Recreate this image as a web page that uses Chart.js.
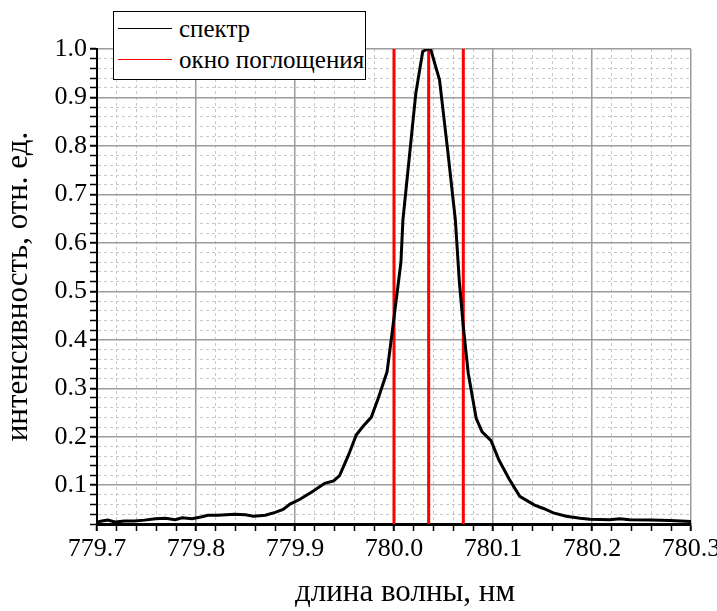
<!DOCTYPE html>
<html>
<head>
<meta charset="utf-8">
<title>спектр</title>
<script src="https://cdn.jsdelivr.net/npm/chart.js@4.4.1/dist/chart.umd.min.js"></script>
<style>
  body { margin: 0; background: #fff; }
  #wrap { position: relative; width: 717px; height: 611px; }
  #legend {
    position: absolute; left: 113px; top: 11px; width: 251px; height: 66px;
    border: 1px solid #000; background: #fff; padding-top: 1px; box-sizing: content-box;
    font: 25px "Liberation Serif"; color: #000;
  }
  #legend .row { display: flex; align-items: center; height: 31px; }
  #legend .line { width: 54px; height: 1px; margin-left: 4px; margin-right: 7px; }
</style>
</head>
<body>
<div id="wrap">
  <canvas id="chart" width="717" height="611"></canvas>
  <div id="legend"></div>
</div>
<script>
// data
const wavelength = [
  779.700, 779.705, 779.711, 779.718, 779.728, 779.738, 779.748, 779.759, 779.769, 779.779,
  779.786, 779.796, 779.806, 779.812, 779.822, 779.839, 779.850, 779.858, 779.870, 779.880,
  779.888, 779.895, 779.905, 779.917, 779.930, 779.939, 779.945, 779.954, 779.962, 779.969,
  779.977, 779.984, 779.993, 779.998, 780.007, 780.009, 780.022, 780.029, 780.034, 780.037,
  780.046, 780.054, 780.062, 780.066, 780.070, 780.075, 780.083, 780.089, 780.098, 780.106,
  780.116, 780.127, 780.142, 780.151, 780.161, 780.174, 780.188, 780.198, 780.218, 780.228,
  780.238, 780.259, 780.279, 780.300
];
const intensity = [
  0.024, 0.026, 0.028, 0.024, 0.026, 0.026, 0.028, 0.031, 0.032, 0.029,
  0.033, 0.031, 0.035, 0.038, 0.038, 0.040, 0.039, 0.036, 0.038, 0.044,
  0.050, 0.061, 0.071, 0.086, 0.104, 0.109, 0.120, 0.162, 0.204, 0.222,
  0.240, 0.279, 0.334, 0.413, 0.560, 0.647, 0.908, 0.995, 1.000, 1.000,
  0.936, 0.795, 0.647, 0.520, 0.427, 0.331, 0.238, 0.210, 0.192, 0.152,
  0.114, 0.077, 0.059, 0.052, 0.043, 0.036, 0.032, 0.030, 0.029, 0.031,
  0.029, 0.028, 0.027, 0.025
];
// absorption window edges and centre
const windowLines = [780.000, 780.035, 780.070];

const seriesLabels = ['спектр', 'окно поглощения'];
const xRange = [779.7, 780.3];
const yRange = [0.02, 1.0];
const gridStep = 0.02;
const labelStep = 0.1;
const xTitle = 'длина волны, нм';
const yTitle = 'интенсивность, отн. ед.';

// helpers
const isMajor = (v) => Math.abs(v / labelStep - Math.round(v / labelStep)) < 1e-6;

const spectrumPoints = wavelength.map((x, i) => ({ x: x, y: intensity[i] }));
const windowPoints = [];
windowLines.forEach((x) => {
  windowPoints.push({ x: x, y: yRange[0] }, { x: x, y: yRange[1] }, { x: x, y: null });
});

const tickFont = { family: 'Liberation Serif', size: 26 };
const titleFont = { family: 'Liberation Serif', size: 31 };

const gridOpts = {
  color: ctx => isMajor(ctx.tick.value) ? '#9c9c9c' : '#c8c8c8',
  lineWidth: ctx => isMajor(ctx.tick.value) ? 1.5 : 1,
  tickColor: '#000',
  tickLength: 7,
  tickWidth: ctx => isMajor(ctx.tick.value) ? 2 : 1.5
};
const borderOpts = (w) => ({
  color: '#000',
  width: w,
  dash: ctx => (ctx.tick && !isMajor(ctx.tick.value)) ? [3, 3] : []
});

// html legend built from the datasets
const htmlLegend = {
  id: 'htmlLegend',
  afterUpdate(chart) {
    const box = document.getElementById('legend');
    box.innerHTML = '';
    chart.data.datasets.forEach((ds) => {
      const row = document.createElement('div');
      row.className = 'row';
      const line = document.createElement('span');
      line.className = 'line';
      line.style.background = ds.borderColor;
      const text = document.createElement('span');
      text.textContent = ds.label;
      row.appendChild(line);
      row.appendChild(text);
      box.appendChild(row);
    });
  }
};

// x axis title, sits a little right of the plot centre in the original
const xAxisTitle = {
  id: 'xAxisTitle',
  afterDraw(chart) {
    const { ctx, chartArea, scales } = chart;
    ctx.save();
    ctx.font = titleFont.size + 'px "' + titleFont.family + '"';
    ctx.fillStyle = '#000';
    ctx.textAlign = 'center';
    ctx.textBaseline = 'middle';
    ctx.fillText(xTitle, (chartArea.left + chartArea.right) / 2 + 11, scales.x.bottom - 18);
    ctx.restore();
  }
};

const chart = new Chart(document.getElementById('chart'), {
  type: 'line',
  data: {
    datasets: [
      {
        label: seriesLabels[0],
        data: spectrumPoints,
        borderColor: '#000',
        borderWidth: 3,
        pointRadius: 0,
        tension: 0
      },
      {
        label: seriesLabels[1],
        data: windowPoints,
        borderColor: '#ff0000',
        borderWidth: 3,
        pointRadius: 0,
        spanGaps: false
      }
    ]
  },
  options: {
    responsive: false,
    animation: false,
    layout: { padding: { top: 49, right: 26, left: 0, bottom: 0 } },
    plugins: {
      legend: { display: false },
      tooltip: { enabled: false }
    },
    scales: {
      x: {
        type: 'linear',
        min: xRange[0],
        max: xRange[1],
        grid: gridOpts,
        border: borderOpts(3),
        ticks: {
          stepSize: gridStep,
          autoSkip: false,
          maxRotation: 0,
          padding: 3,
          color: '#000',
          font: tickFont,
          callback: v => isMajor(v) ? v.toFixed(1) : ''
        },
        afterFit: (scale) => {
          scale.height = 87;
          scale.paddingLeft = 0;
          scale.paddingRight = 0;
        }
      },
      y: {
        min: yRange[0],
        max: yRange[1],
        grid: gridOpts,
        border: borderOpts(2),
        ticks: {
          stepSize: gridStep,
          autoSkip: false,
          padding: 3,
          color: '#000',
          font: tickFont,
          callback: v => isMajor(v) ? v.toFixed(1) : ''
        },
        title: { display: true, text: yTitle, color: '#000', font: titleFont, padding: { top: 0, bottom: 0 } },
        afterFit: (scale) => {
          scale.width = 97;
          scale.paddingTop = 0;
          scale.paddingBottom = 0;
        }
      }
    }
  },
  plugins: [htmlLegend, xAxisTitle]
});
</script>
</body>
</html>
